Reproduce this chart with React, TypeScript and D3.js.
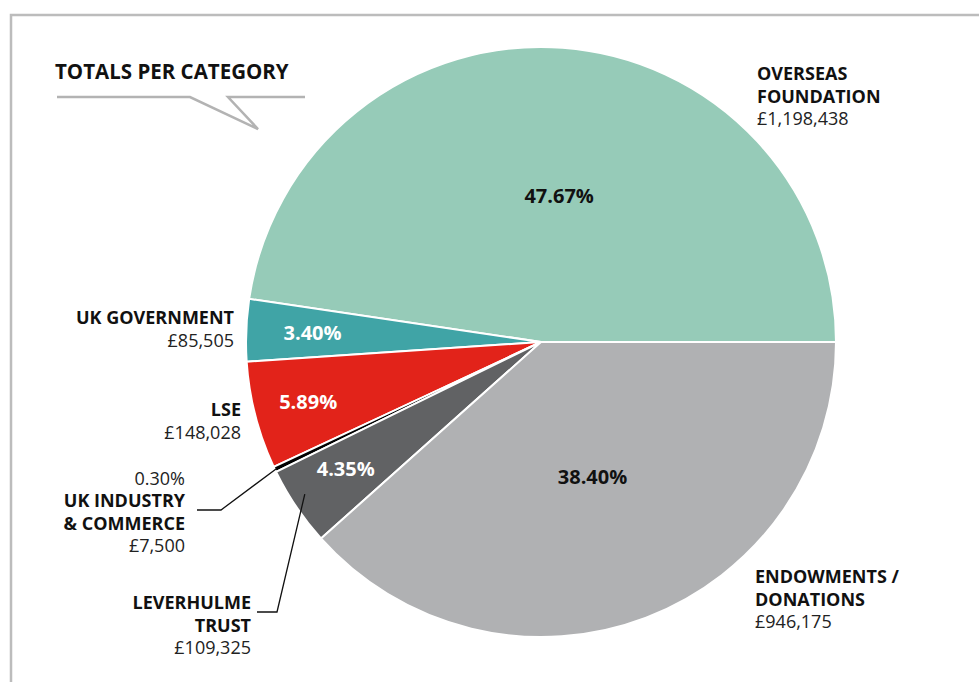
import React from "react";
import * as d3 from "d3";

const categories = ["OVERSEAS FOUNDATION", "UK GOVERNMENT", "LSE", "UK INDUSTRY & COMMERCE", "LEVERHULME TRUST", "ENDOWMENTS / DONATIONS"];
const percents = [47.67, 3.4, 5.89, 0.3, 4.35, 38.4];
const amounts = ["£1,198,438", "£85,505", "£148,028", "£7,500", "£109,325", "£946,175"];
const colors = ["#96cbb8", "#40a4a6", "#e2231a", "#000000", "#616264", "#b0b1b3"];
const pctColors = ["#111", "#fff", "#fff", "#111", "#fff", "#111"];

const W = 979, H = 682;
const CX = 541, CY = 342, R = 295;
const FONT = "'Open Sans', 'Noto Sans', sans-serif";
// layout: label radius (fraction of R) and angle nudge (radians) per slice
const labelR = [0.5, 0.775, 0.815, 0, 0.79, 0.49];
const labelNudge = [0.05, 0, 0, 0, 0.015, 0];

type LabelSpec = { lines: string[]; amount: string; pct?: string; x: number; y: number; anchor: "start" | "end" };

export default function App() {
  const pie = d3.pie<number>().sort(null).value((d) => d).startAngle(Math.PI / 2).endAngle(Math.PI / 2 - 2 * Math.PI);
  const arcs = pie(percents);
  const arc = d3.arc<d3.PieArcDatum<number>>().innerRadius(0).outerRadius(R);
  const pt = (a: number, r: number) => [CX + r * Math.sin(a), CY - r * Math.cos(a)];
  const mid = (d: d3.PieArcDatum<number>) => (d.startAngle + d.endAngle) / 2;

  const labels: LabelSpec[] = [
    { lines: ["OVERSEAS", "FOUNDATION"], amount: amounts[0], x: 757, y: 80, anchor: "start" },
    { lines: ["UK GOVERNMENT"], amount: amounts[1], x: 234, y: 324, anchor: "end" },
    { lines: ["LSE"], amount: amounts[2], x: 241, y: 416, anchor: "end" },
    { lines: ["UK INDUSTRY", "& COMMERCE"], amount: amounts[3], pct: "0.30%", x: 185, y: 507, anchor: "end" },
    { lines: ["LEVERHULME", "TRUST"], amount: amounts[4], x: 251, y: 609, anchor: "end" },
    { lines: ["ENDOWMENTS /", "DONATIONS"], amount: amounts[5], x: 755, y: 583, anchor: "start" },
  ];
  const LH = 22.5;

  const ind = pt(mid(arcs[3]), R - 2);
  const lev = pt(mid(arcs[4]) + 0.02, R - 14);

  return (
    <svg width={W} height={H} style={{ position: "absolute", left: 0, top: 0, background: "#fff" }} fontFamily={FONT}>
      <path d={`M11,${H} V15 H${W}`} fill="none" stroke="#bcbcbc" strokeWidth={2.5} />
      <text x={55} y={79} fontSize={20.5} fontWeight={700} fill="#111">TOTALS PER CATEGORY</text>
      <path d="M57,97 H190 L258,129 L228,97 H305" fill="none" stroke="#b3b3b3" strokeWidth={2.5} />
      {arcs.map((d, i) => (
        <path key={i} d={arc(d) || ""} transform={`translate(${CX},${CY})`} fill={colors[i]} stroke="#fff" strokeWidth={2} strokeLinejoin="round" />
      ))}
      {arcs.map((d, i) => {
        if (percents[i] < 1) return null;
        const [x, y] = pt(mid(d) + labelNudge[i], R * labelR[i]);
        return (
          <text key={i} x={x} y={y} dy="0.36em" textAnchor="middle" fontSize={20} fontWeight={700} fill={pctColors[i]}>
            {percents[i].toFixed(2)}%
          </text>
        );
      })}
      <polyline points={`${ind[0]},${ind[1]} 221,510 197,510`} fill="none" stroke="#111" strokeWidth={1.3} />
      <polyline points={`${lev[0]},${lev[1]} 277,612 257,612`} fill="none" stroke="#111" strokeWidth={1.3} />
      {labels.map((l, i) => (
        <g key={i} fontSize={18} textAnchor={l.anchor}>
          {l.pct && (
            <text x={l.x} y={l.y - LH} fill="#222">{l.pct}</text>
          )}
          {l.lines.map((s, j) => (
            <text key={j} x={l.x} y={l.y + j * LH} fontWeight={700} fill="#111">{s}</text>
          ))}
          <text x={l.x} y={l.y + l.lines.length * LH} fill="#222">{l.amount}</text>
        </g>
      ))}
    </svg>
  );
}
